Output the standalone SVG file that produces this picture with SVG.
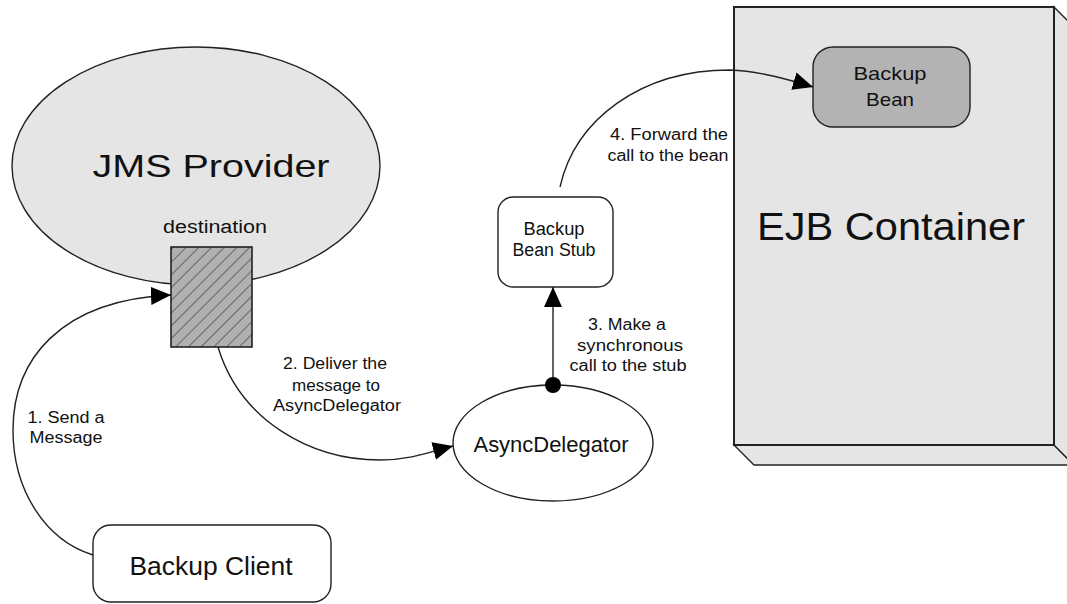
<svg xmlns="http://www.w3.org/2000/svg" width="1067" height="604" viewBox="0 0 1067 604">
<style>
text{font-family:"Liberation Sans",Arial,sans-serif;fill:#111;text-anchor:middle}
.lbl{font-size:16px}
.shape{stroke:#222;stroke-width:1.4}
.conn{fill:none;stroke:#222;stroke-width:1.4}
</style>
<defs>
<pattern id="hatch" width="9" height="9" patternUnits="userSpaceOnUse" patternTransform="rotate(45)">
<rect width="9" height="9" fill="#b0b0b0"/>
<line x1="0" y1="0" x2="0" y2="9" stroke="#333" stroke-width="1.2"/>
</pattern>
<marker id="arr" viewBox="0 0 20 20" refX="20" refY="10" markerWidth="20" markerHeight="20" markerUnits="userSpaceOnUse" orient="auto">
<path d="M0,1 L20,10 L0,19 Z" fill="#000"/>
</marker>
</defs>
<rect width="1067" height="604" fill="#fff"/>

<g id="ejb-container">
<polygon points="734,445 1054,445 1074,465 754,465" fill="#e5e5e5" class="shape"/>
<polygon points="1054,7 1074,27 1074,465 1054,445" fill="#e5e5e5" class="shape"/>
<rect x="734" y="7" width="320" height="438" fill="#e5e5e5" stroke="#222" stroke-width="2"/>
<text x="891" y="240" font-size="38" textLength="268" lengthAdjust="spacingAndGlyphs">EJB Container</text>
</g>

<g id="backup-bean">
<rect x="813" y="47" width="157" height="80" rx="20" fill="#b3b3b3" class="shape"/>
<text x="890" y="80" font-size="19" textLength="73" lengthAdjust="spacingAndGlyphs">Backup</text>
<text x="890" y="106" font-size="19" textLength="48" lengthAdjust="spacingAndGlyphs">Bean</text>
</g>

<g id="jms-provider">
<ellipse cx="196" cy="166" rx="184" ry="119" fill="#e5e5e5" class="shape"/>
<text x="211" y="177" font-size="32" textLength="237" lengthAdjust="spacingAndGlyphs">JMS Provider</text>
<text x="215" y="233" font-size="18" textLength="104" lengthAdjust="spacingAndGlyphs">destination</text>
</g>

<g id="destination">
<rect x="171" y="247" width="81" height="100" fill="url(#hatch)" stroke="#222" stroke-width="1.6"/>
</g>

<g id="backup-client">
<rect x="93" y="525" width="238" height="77" rx="18" fill="#fff" class="shape"/>
<text x="211" y="575" font-size="25" textLength="163" lengthAdjust="spacingAndGlyphs">Backup Client</text>
</g>

<g id="async-delegator">
<ellipse cx="553" cy="443" rx="100" ry="58" fill="#fff" class="shape"/>
<text x="551" y="452" font-size="22" textLength="155" lengthAdjust="spacingAndGlyphs">AsyncDelegator</text>
</g>

<g id="backup-bean-stub">
<rect x="498" y="197" width="115" height="90" rx="15" fill="#fff" class="shape"/>
<text x="554" y="235" font-size="18" textLength="61" lengthAdjust="spacingAndGlyphs">Backup</text>
<text x="554" y="256" font-size="18" textLength="83" lengthAdjust="spacingAndGlyphs">Bean Stub</text>
</g>

<g id="connectors">
<path class="conn" d="M93,555 C45,540 13,490 13,430 C13,360 60,300 171,295" marker-end="url(#arr)"/>
<path class="conn" d="M218,347 C240,420 310,460 380,460 C410,460 430,452 453,446" marker-end="url(#arr)"/>
<path class="conn" d="M553,385 L553,287" marker-end="url(#arr)"/>
<circle cx="553" cy="385" r="8" fill="#000"/>
<path class="conn" d="M560,187 C575,120 640,70 730,70 C760,71 790,80 813,87" marker-end="url(#arr)"/>
</g>

<g id="labels" class="lbl">
<text x="66" y="423" textLength="77" lengthAdjust="spacingAndGlyphs">1. Send a</text>
<text x="66" y="443" textLength="73" lengthAdjust="spacingAndGlyphs">Message</text>
<text x="335" y="369" textLength="104" lengthAdjust="spacingAndGlyphs">2. Deliver the</text>
<text x="336" y="391" textLength="88" lengthAdjust="spacingAndGlyphs">message to</text>
<text x="337" y="411" textLength="128" lengthAdjust="spacingAndGlyphs">AsyncDelegator</text>
<text x="627" y="330" textLength="78" lengthAdjust="spacingAndGlyphs">3. Make a</text>
<text x="630" y="351" textLength="106" lengthAdjust="spacingAndGlyphs">synchronous</text>
<text x="628" y="371" textLength="117" lengthAdjust="spacingAndGlyphs">call to the stub</text>
<text x="669" y="140" textLength="118" lengthAdjust="spacingAndGlyphs">4. Forward the</text>
<text x="668" y="161" textLength="121" lengthAdjust="spacingAndGlyphs">call to the bean</text>
</g>
</svg>
